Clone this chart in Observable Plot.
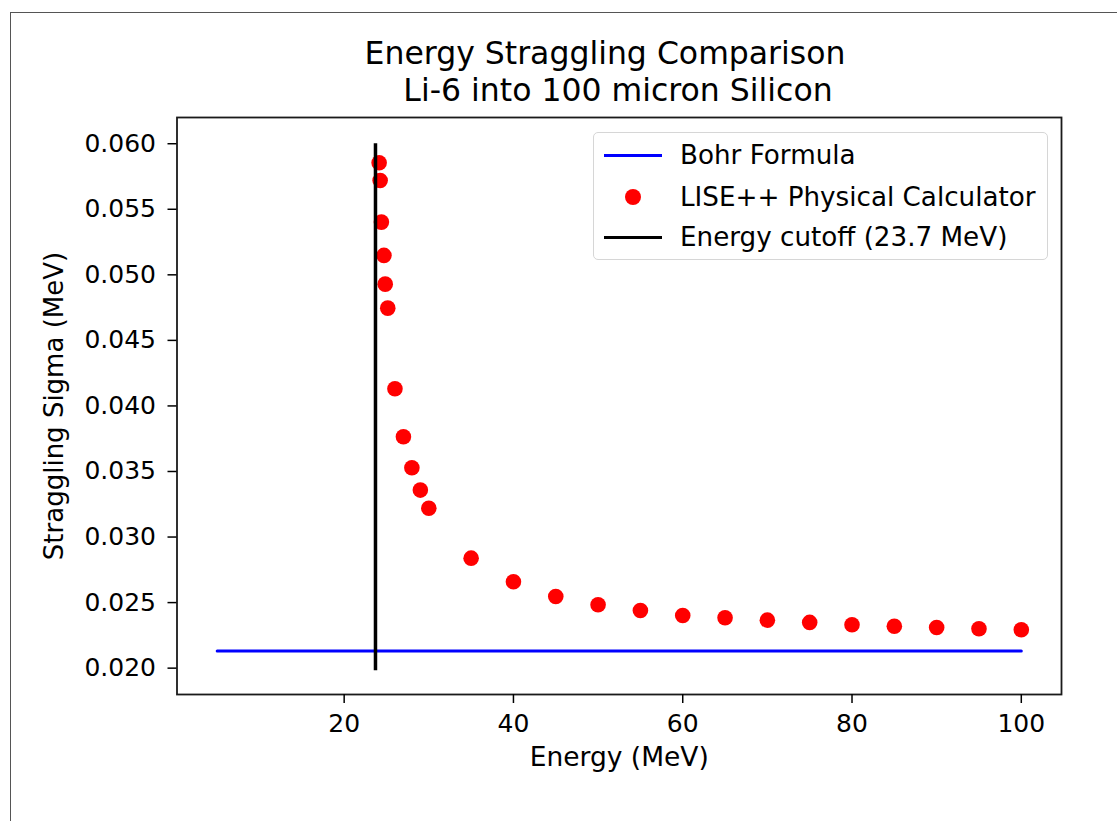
<!DOCTYPE html>
<html>
<head>
<meta charset="utf-8">
<script src="https://cdn.jsdelivr.net/npm/d3@7"></script>
<script src="https://cdn.jsdelivr.net/npm/@observablehq/plot@0.6"></script>
<style>
  html, body { margin: 0; padding: 0; background: #fff; }
  #wrap { position: relative; width: 1117px; height: 821px; overflow: hidden; font-family: "DejaVu Sans", sans-serif; color: #000; }
  #border { position: absolute; left: 10px; top: 12px; width: 1200px; height: 900px; border: 1.3px solid #555; box-sizing: border-box; pointer-events: none; }
  #title { position: relative; height: 112px; box-sizing: border-box; padding-top: 35px; font-size: 31.5px; line-height: 37px; }
  #title div { text-align: center; white-space: pre; }
  #legend { position: absolute; left: 593px; top: 132px; width: 455px; height: 128px; box-sizing: border-box; border: 1.5px solid #d6d6d6; border-radius: 5px; background: rgba(255,255,255,0.8); }
  .row { position: absolute; left: 0; width: 100%; height: 26px; }
  .swatch-line { position: absolute; left: 10px; width: 58px; height: 3px; top: 11.5px; }
  .swatch-dot { position: absolute; left: 31px; top: 5px; width: 16px; height: 16px; border-radius: 50%; background: #ff0000; }
  .lbl { position: absolute; left: 86px; top: 0; font-size: 26.2px; line-height: 26px; white-space: nowrap; }
</style>
</head>
<body>
<div id="wrap">
  <div id="title"></div>
  <div id="chart"></div>
  <div id="legend"></div>
  <div id="border"></div>
</div>
<script>
// ---- data ----
const titleLines = ["Energy Straggling Comparison", " Li-6 into 100 micron Silicon"];
const xLabel = "Energy (MeV)";
const yLabel = "Straggling Sigma (MeV)";

const bohrEnergy = [5, 100];
const bohrSigma = [0.0213, 0.0213];

const liseEnergy = [24.13, 24.25, 24.4, 24.7, 24.85, 25.15, 26, 27, 28, 29, 30, 35, 40, 45, 50, 55, 60, 65, 70, 75, 80, 85, 90, 95, 100];
const liseSigma = [0.05855, 0.05720, 0.05402, 0.05148, 0.04929, 0.04746, 0.04131, 0.03765, 0.03529, 0.03358, 0.03220,
                   0.02839, 0.02659, 0.02547, 0.02484, 0.02440, 0.02402, 0.02384, 0.02366, 0.02349, 0.02331, 0.02320, 0.02310, 0.02300, 0.02293];

const cutoffEnergy = 23.7;
const cutoffSigma = [0.0198, 0.0600];

const xTicks = [20, 40, 60, 80, 100];
const yTicks = [0.020, 0.025, 0.030, 0.035, 0.040, 0.045, 0.050, 0.055, 0.060];

const legendLabels = ["Bohr Formula", "LISE++ Physical Calculator", "Energy cutoff (23.7 MeV)"];
const legendKinds = ["line", "dot", "line"];
const legendColors = ["#0000ff", "#ff0000", "#000000"];

// ---- build tables ----
const bohr = bohrEnergy.map((e, i) => ({e, s: bohrSigma[i]}));
const lise = liseEnergy.map((e, i) => ({e, s: liseSigma[i]}));
const cutoff = [{e: cutoffEnergy, y1: cutoffSigma[0], y2: cutoffSigma[1]}];

// ---- title ----
const titleEl = document.getElementById("title");
const titlePads = [93, 109];
titleLines.forEach((line, i) => {
  const d = document.createElement("div");
  d.textContent = line;
  d.style.paddingLeft = titlePads[i] + "px";
  titleEl.appendChild(d);
});

// ---- chart ----
const chart = Plot.plot({
  width: 1117,
  height: 709,
  marginTop: 5,
  marginLeft: 176.5,
  marginRight: 56,
  marginBottom: 127,
  x: {domain: [0.25, 104.75]},
  y: {domain: [0.01799, 0.0620]},
  style: {fontFamily: "'DejaVu Sans', sans-serif", fontSize: "25px", color: "#000", background: "transparent", overflow: "visible"},
  marks: [
    Plot.line(bohr, {x: "e", y: "s", stroke: "#0000ff", strokeWidth: 3}),
    Plot.dot(lise, {x: "e", y: "s", r: 7.8, fill: "#ff0000", stroke: null}),
    Plot.ruleX(cutoff, {x: "e", y1: "y1", y2: "y2", stroke: "#000", strokeWidth: 3.5}),
    Plot.frame({stroke: "#1a1a1a", strokeWidth: 1.8}),
    Plot.axisX({ticks: xTicks, tickSize: 9, tickPadding: 11, label: null, strokeWidth: 1.5}),
    Plot.axisY({ticks: yTicks, tickSize: 9, tickPadding: 12, tickFormat: d3.format(".3f"), label: null, strokeWidth: 1.5}),
    Plot.text([xLabel], {frameAnchor: "bottom", dy: 71, text: d => d, fontSize: 26.5, textAnchor: "middle"}),
    Plot.text([yLabel], {frameAnchor: "left", dx: -122, rotate: -90, text: d => d, fontSize: 26, textAnchor: "middle"})
  ]
});
document.getElementById("chart").appendChild(chart);

// ---- legend ----
const legend = document.getElementById("legend");
const rowCenters = [22, 64, 104];
legendLabels.forEach((lab, i) => {
  const row = document.createElement("div");
  row.className = "row";
  row.style.top = (rowCenters[i] - 13) + "px";
  const sw = document.createElement("div");
  sw.className = legendKinds[i] === "line" ? "swatch-line" : "swatch-dot";
  sw.style.background = legendColors[i];
  const t = document.createElement("div");
  t.className = "lbl";
  t.textContent = lab;
  row.appendChild(sw);
  row.appendChild(t);
  legend.appendChild(row);
});
</script>
</body>
</html>
